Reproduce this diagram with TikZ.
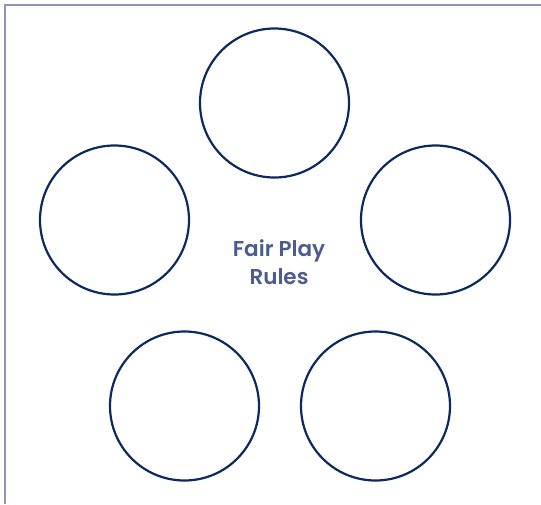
\documentclass[tikz,border=0pt]{standalone}
\usepackage{fontspec}
\setmainfont{Poppins}[BoldFont={* SemiBold}]
\definecolor{frame}{HTML}{8C96B8}
\definecolor{ring}{HTML}{0B2A5E}
\definecolor{label}{HTML}{4B5D8E}
\begin{document}
\begin{tikzpicture}[x=1pt,y=-1pt,
  ringnode/.style={circle,draw=ring,line width=2.2pt,minimum size=149pt,inner sep=0pt},
  framestyle/.style={draw=frame,line width=2pt}]
\useasboundingbox (0,0) rectangle (541,504);
\coordinate (ftl) at (4.5,4.5);
\coordinate (ftr) at (541,4.5);
\coordinate (fbl) at (4.5,504);
\draw[framestyle] (ftr) -- (ftl) -- (fbl);
\node[ringnode] (top) at (274.5,103) {};
\node[ringnode] (left) at (114.5,220) {};
\node[ringnode] (right) at (435.5,220) {};
\node[ringnode] (bl) at (184.5,406) {};
\node[ringnode] (br) at (375.5,406) {};
\node[text=label,font=\bfseries\fontsize{21.5}{28}\selectfont,align=center] (title) at (279,262) {Fair Play\\Rules};
\end{tikzpicture}
\end{document}
